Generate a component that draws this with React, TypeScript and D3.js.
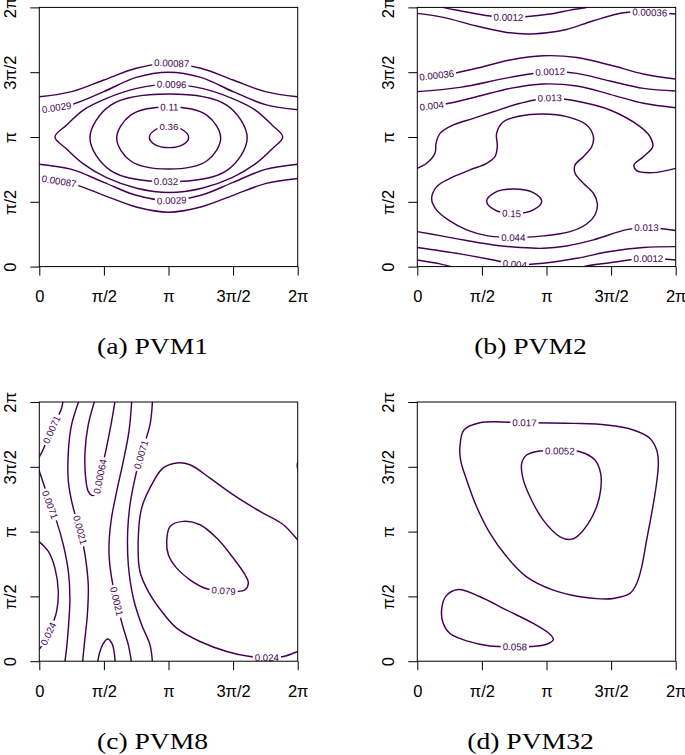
import React, { useEffect, useRef } from "react";
import * as d3 from "d3";

type Pt = [number, number];
interface Contour { level: string; closed: boolean; pts: Pt[]; label?: Pt; }

// All coordinates are in units of π (0..2 on each axis)
const TICK_VALUES = [0, 0.5, 1, 1.5, 2];
const TICK_LABELS = ["0", "π/2", "π", "3π/2", "2π"];
const CAPTIONS = ["(a) PVM1", "(b) PVM2", "(c) PVM8", "(d) PVM32"];

const pvm1: Contour[] = [
  { level: "0.36", closed: true, pts: [[1.156,0.997],[1.112,1.054],[1.004,1.077],[0.895,1.054],[0.852,0.997],[0.895,0.941],[1.004,0.918],[1.112,0.941]], label: [1.004,1.077] },
  { level: "0.11", closed: true, pts: [[1.404,0.992],[1.298,1.167],[1.001,1.231],[0.705,1.167],[0.599,0.992],[0.705,0.817],[1.001,0.753],[1.298,0.817]], label: [1.006,1.231] },
  { level: "0.032", closed: true, pts: [[1.609,0.994],[1.453,1.244],[1.001,1.332],[0.550,1.244],[0.392,0.994],[0.550,0.743],[1.001,0.656],[1.453,0.743]], label: [0.981,0.656] },
  { level: "0.0096", closed: true, pts: [[0.121,1.0],[0.212,1.093],[0.341,1.208],[0.521,1.298],[0.754,1.375],[1.006,1.406],[1.259,1.375],[1.492,1.298],[1.672,1.208],[1.801,1.093],[1.884,1.0],[1.801,0.907],[1.672,0.792],[1.492,0.686],[1.259,0.604],[1.006,0.571],[0.754,0.604],[0.521,0.686],[0.341,0.792],[0.212,0.907]], label: [1.025,1.406] },
  { level: "0.0029", closed: false, pts: [[0,1.21],[0.25,1.25],[0.5,1.35],[0.75,1.46],[1,1.50],[1.25,1.46],[1.5,1.35],[1.75,1.25],[2,1.21]], label: [0.134,1.23] },
  { level: "0.00087", closed: false, pts: [[0,1.31],[0.25,1.35],[0.5,1.44],[0.75,1.53],[1,1.57],[1.25,1.53],[1.5,1.44],[1.75,1.35],[2,1.31]], label: [1.025,1.57] },
  { level: "0.0029", closed: false, pts: [[0,0.79],[0.25,0.75],[0.5,0.65],[0.75,0.55],[1,0.51],[1.25,0.55],[1.5,0.65],[1.75,0.75],[2,0.79]], label: [1.025,0.51] },
  { level: "0.00087", closed: false, pts: [[0,0.68],[0.25,0.64],[0.5,0.55],[0.75,0.46],[1,0.42],[1.25,0.46],[1.5,0.55],[1.75,0.64],[2,0.68]], label: [0.155,0.66] },
];

const pvm2: Contour[] = [
  { level: "0.15", closed: true, pts: [[0.963,0.504],[0.898,0.571],[0.748,0.599],[0.599,0.571],[0.537,0.504],[0.599,0.437],[0.748,0.409],[0.898,0.437]], label: [0.730,0.409] },
  { level: "0.044", closed: true, pts: [[0.975,1.177],[1.156,1.157],[1.311,1.093],[1.363,1.003],[1.350,0.925],[1.285,0.848],[1.221,0.784],[1.221,0.720],[1.285,0.643],[1.363,0.566],[1.394,0.483],[1.375,0.398],[1.311,0.329],[1.182,0.270],[0.975,0.237],[0.743,0.224],[0.537,0.239],[0.382,0.283],[0.240,0.360],[0.145,0.442],[0.111,0.519],[0.150,0.617],[0.253,0.681],[0.408,0.746],[0.537,0.797],[0.601,0.848],[0.619,0.925],[0.614,1.028],[0.666,1.118],[0.795,1.162]], label: [0.743,0.224] },
  { level: "0.013", closed: false, pts: [[0,0.758],[0.072,0.797],[0.137,0.874],[0.145,0.951],[0.176,1.028],[0.279,1.093],[0.434,1.144],[0.588,1.195],[0.795,1.260],[1.027,1.301],[1.259,1.272],[1.492,1.208],[1.724,1.080],[1.801,1.003],[1.822,0.925],[1.750,0.848],[1.677,0.784],[1.698,0.740],[1.827,0.725],[2.0,0.758]], label: [1.027,1.301] },
  { level: "0.013", closed: false, pts: [[0,0.270],[0.175,0.239],[0.382,0.201],[0.588,0.167],[0.795,0.147],[0.975,0.141],[1.156,0.159],[1.363,0.206],[1.621,0.285],[1.775,0.301],[2.0,0.278]], label: [1.775,0.301] },
  { level: "0.004", closed: false, pts: [[0,1.229],[0.214,1.254],[0.459,1.311],[0.717,1.375],[0.975,1.409],[1.234,1.393],[1.492,1.329],[1.750,1.260],[2.0,1.226]], label: [0.111,1.239] },
  { level: "0.004", closed: false, pts: [[0,0.147],[0.330,0.098],[0.588,0.051],[0.756,0.018],[0.975,0.026],[1.234,0.064],[1.492,0.116],[1.750,0.147],[2.0,0.154]], label: [0.756,0.018] },
  { level: "0.0012", closed: false, pts: [[0,1.350],[0.330,1.383],[0.717,1.460],[1.027,1.504],[1.234,1.491],[1.492,1.432],[1.750,1.375],[2.0,1.355]], label: [1.027,1.504] },
  { level: "0.0012", closed: false, pts: [[0.17,2.015],[0.201,2.0],[0.330,1.974],[0.563,1.933],[0.705,1.923],[0.834,1.928],[1.027,1.949],[1.182,1.979],[1.311,2.0],[1.34,2.015]], label: [0.705,1.923] },
  { level: "0.0012", closed: false, pts: [[0,0.051],[0.175,0.021],[0.305,-0.013]] },
  { level: "0.0012", closed: false, pts: [[1.25,-0.015],[1.29,0.0],[1.492,0.030],[1.672,0.055],[1.788,0.062],[2.0,0.051]], label: [1.788,0.062] },
  { level: "0.00036", closed: false, pts: [[0,1.460],[0.305,1.496],[0.459,1.530],[0.717,1.594],[0.975,1.627],[1.234,1.614],[1.492,1.555],[1.750,1.486],[2.0,1.447]], label: [0.150,1.470] },
  { level: "0.00036", closed: false, pts: [[0,1.954],[0.201,1.923],[0.459,1.856],[0.692,1.807],[0.846,1.794],[1.001,1.805],[1.156,1.830],[1.363,1.897],[1.595,1.959],[1.801,1.961],[2.0,1.949]], label: [1.801,1.961] },
];

const pvm8: Contour[] = [
  { level: "0.079", closed: true, pts: [[1.012,1.040],[1.115,1.079],[1.244,1.053],[1.373,0.950],[1.502,0.795],[1.592,0.667],[1.618,0.602],[1.592,0.551],[1.528,0.538],[1.425,0.543],[1.295,0.559],[1.166,0.628],[1.063,0.718],[0.999,0.821],[0.986,0.924]], label: [1.425,0.543] },
  { level: "0.024", closed: false, pts: [[2.018,0.921],[2.0,0.937],[1.889,1.053],[1.708,1.156],[1.502,1.284],[1.321,1.413],[1.166,1.516],[1.063,1.529],[0.955,1.488],[0.870,1.362],[0.792,1.181],[0.766,0.950],[0.779,0.692],[0.852,0.523],[0.960,0.368],[1.063,0.255],[1.244,0.152],[1.450,0.075],[1.631,0.036],[1.747,0.028],[1.889,0.036],[2.0,0.075],[2.018,0.082]], label: [1.760,0.028] },
  { level: "0.024", closed: false, pts: [[-0.021,0.940],[0.070,0.847],[0.121,0.718],[0.147,0.538],[0.134,0.384],[0.083,0.239],[0.005,0.100],[-0.021,0.080]], label: [0.065,0.216] },
  { level: "0.0071", closed: false, pts: [[0.186,2.031],[0.173,1.954],[0.126,1.851],[0.095,1.786],[0.057,1.696],[0.023,1.619],[-0.003,1.573],[-0.021,1.542]], label: [0.095,1.786] },
  { level: "0.0071", closed: false, pts: [[2.015,1.58],[1.996,1.51],[2.015,1.44]] },
  { level: "0.0071", closed: false, pts: [[-0.008,1.49],[0.044,1.336],[0.083,1.207],[0.134,1.079],[0.186,0.898],[0.225,0.692],[0.237,0.486],[0.225,0.255],[0.199,0],[0.194,-0.028]], label: [0.083,1.207] },
  { level: "0.0071", closed: false, pts: [[0.877,2.03],[0.857,1.825],[0.787,1.593],[0.741,1.413],[0.702,1.207],[0.684,1.001],[0.689,0.744],[0.728,0.486],[0.792,0.281],[0.857,0.126],[0.877,-0.03]], label: [0.787,1.593] },
  { level: "0.0021", closed: false, pts: [[0.315,2.031],[0.250,1.825],[0.225,1.619],[0.225,1.387],[0.263,1.181],[0.315,1.014],[0.354,0.821],[0.379,0.589],[0.372,0.358],[0.348,0.126],[0.333,-0.028]], label: [0.315,1.014] },
  { level: "0.0021", closed: false, pts: [[0.717,2.03],[0.694,1.773],[0.650,1.542],[0.599,1.310],[0.555,1.079],[0.539,0.847],[0.560,0.641],[0.599,0.461],[0.643,0.281],[0.689,0.126],[0.717,-0.03]], label: [0.599,0.461] },
  { level: "0.00064", closed: false, pts: [[0.435,2.03],[0.379,1.825],[0.354,1.619],[0.359,1.413],[0.379,1.310],[0.410,1.279],[0.444,1.305],[0.470,1.426],[0.514,1.619],[0.555,1.825],[0.590,2.03]], label: [0.470,1.426] },
  { level: "0.00064", closed: false, pts: [[0.449,-0.028],[0.465,0.059],[0.495,0.136],[0.529,0.172],[0.563,0.136],[0.581,0.059],[0.588,-0.028]] },
];

const pvm32: Contour[] = [
  { level: "0.017", closed: true, pts: [[0.330,1.655],[0.361,1.784],[0.485,1.840],[0.828,1.840],[1.208,1.835],[1.466,1.822],[1.672,1.784],[1.801,1.719],[1.853,1.629],[1.866,1.526],[1.848,1.346],[1.814,1.140],[1.775,0.934],[1.737,0.728],[1.698,0.600],[1.646,0.523],[1.517,0.484],[1.414,0.481],[1.259,0.497],[1.053,0.548],[0.846,0.651],[0.692,0.806],[0.563,0.986],[0.459,1.192],[0.382,1.398],[0.335,1.552]], label: [0.828,1.840] },
  { level: "0.0052", closed: true, pts: [[0.808,1.526],[0.846,1.591],[0.950,1.622],[1.105,1.622],[1.259,1.616],[1.375,1.552],[1.419,1.449],[1.419,1.320],[1.388,1.192],[1.324,1.063],[1.234,0.960],[1.182,0.940],[1.105,0.960],[0.975,1.089],[0.872,1.269],[0.815,1.423]], label: [1.105,1.622] },
  { level: "0.058", closed: true, pts: [[0.317,0.553],[0.485,0.497],[0.692,0.394],[0.898,0.291],[1.027,0.208],[1.053,0.167],[1.001,0.131],[0.846,0.111],[0.756,0.111],[0.563,0.118],[0.382,0.157],[0.253,0.214],[0.201,0.291],[0.188,0.394],[0.222,0.502]], label: [0.756,0.111] },
];

const COLOR = "#440154";
const SANS = "'Liberation Sans', Arial, Helvetica, sans-serif";

interface Box { l: number; t: number; }

function drawPanel(svg: any, data: Contour[], box: Box, W: number, H: number, caption: string, idx: number) {
  const x = d3.scaleLinear().domain([0, 2 * Math.PI]).range([box.l, box.l + W]);
  const y = d3.scaleLinear().domain([0, 2 * Math.PI]).range([box.t + H, box.t]);
  const px = (p: Pt) => x(p[0] * Math.PI);
  const py = (p: Pt) => y(p[1] * Math.PI);
  const g = svg.append("g");
  const clipId = "clip" + idx;
  g.append("clipPath").attr("id", clipId).append("rect")
    .attr("x", box.l).attr("y", box.t).attr("width", W).attr("height", H);
  const inner = g.append("g").attr("clip-path", `url(#${clipId})`);
  const paths = data.map((c) => {
    const gen = d3.line<Pt>().x(px).y(py)
      .curve(c.closed ? d3.curveCatmullRomClosed.alpha(0.5) : d3.curveCatmullRom.alpha(0.5));
    return inner.append("path").attr("d", gen(c.pts)).attr("fill", "none")
      .attr("stroke", COLOR).attr("stroke-width", 1.45).attr("stroke-linejoin", "round");
  });
  const labG = inner.append("g");
  data.forEach((c, k) => {
    if (!c.label) return;
    const node = paths[k].node() as SVGPathElement;
    const L = node.getTotalLength();
    const lx = px(c.label), ly = py(c.label);
    let best = 0, bd = Infinity;
    for (let s = 0; s <= L; s += 0.5) {
      const p = node.getPointAtLength(s);
      const d = (p.x - lx) ** 2 + (p.y - ly) ** 2;
      if (d < bd) { bd = d; best = s; }
    }
    const p0 = node.getPointAtLength(best);
    const pa = node.getPointAtLength(Math.max(0, best - 6));
    const pb = node.getPointAtLength(Math.min(L, best + 6));
    let ang = (Math.atan2(pb.y - pa.y, pb.x - pa.x) * 180) / Math.PI;
    if (ang > 90) ang -= 180;
    if (ang <= -90) ang += 180;
    const lg = labG.append("g").attr("transform", `translate(${p0.x},${p0.y}) rotate(${ang})`);
    const rect = lg.append("rect");
    const t = lg.append("text").text(c.level).attr("text-anchor", "middle").attr("dy", "0.35em")
      .attr("font-size", 9.7).attr("font-family", SANS).attr("fill", COLOR);
    const w = (t.node() as SVGTextElement).getComputedTextLength();
    rect.attr("x", -w / 2 - 2).attr("y", -4).attr("width", w + 4).attr("height", 8).attr("fill", "#fff");
  });

  g.append("rect").attr("x", box.l).attr("y", box.t).attr("width", W).attr("height", H)
    .attr("fill", "none").attr("stroke", "#000").attr("stroke-width", 1);

  const tv = TICK_VALUES.map((v) => v * Math.PI);
  const ax = g.append("g").attr("transform", `translate(0,${box.t + H})`)
    .call(d3.axisBottom(x).tickValues(tv).tickFormat((_d: any, i: number) => TICK_LABELS[i])
      .tickSize(9).tickSizeOuter(0).tickPadding(15));
  ax.select(".domain").remove();
  ax.attr("font-size", 16.5).attr("font-family", SANS);

  const ay = g.append("g").attr("transform", `translate(${box.l},0)`)
    .call(d3.axisLeft(y).tickValues(tv).tickFormat((_d: any, i: number) => TICK_LABELS[i])
      .tickSize(9).tickSizeOuter(0));
  ay.select(".domain").remove();
  ay.attr("font-size", 16.5).attr("font-family", SANS);
  ay.selectAll("text").attr("x", null).attr("dy", "0.35em").attr("text-anchor", "middle")
    .attr("transform", "translate(-29.3,0) rotate(-90)");

  g.append("text")
    .attr("transform", `translate(${box.l + W / 2 - 16},${box.t + H + 87.5}) scale(1.2,1)`)
    .attr("text-anchor", "middle").attr("font-family", "'Liberation Serif', 'Times New Roman', serif")
    .attr("font-size", 23).attr("fill", "#000").text(caption);
}

export default function App() {
  const ref = useRef<SVGSVGElement>(null);
  useEffect(() => {
    const svg = d3.select(ref.current);
    svg.selectAll("*").remove();
    const W = 258.4, H = 259.2;
    const boxes: Box[] = [{ l: 39.3, t: 7.4 }, { l: 417.3, t: 7.4 }, { l: 39.3, t: 402 }, { l: 417.3, t: 402 }];
    const sets = [pvm1, pvm2, pvm8, pvm32];
    sets.forEach((data, i) => drawPanel(svg, data, boxes[i], W, H, CAPTIONS[i], i));
  }, []);
  return (
    <svg ref={ref} width={685} height={755}
      style={{ position: "absolute", left: 0, top: 0, background: "#fff" }} />
  );
}
